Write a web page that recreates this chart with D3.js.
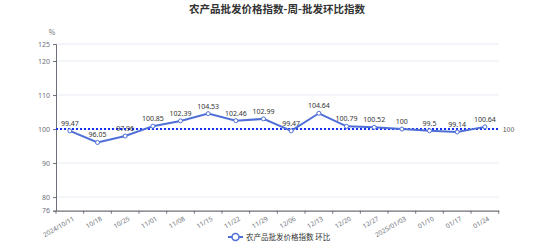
<!DOCTYPE html>
<html><head><meta charset="utf-8">
<script src="https://cdn.jsdelivr.net/npm/d3@7"></script>
<style>body{margin:0;background:#fff}svg{display:block;font-family:"Noto Sans CJK SC","Noto Sans",sans-serif}</style>
</head><body><svg id="c" width="554" height="250"></svg>
<script>
const categories = ["2024/10/11","10/18","10/25","11/01","11/08","11/15","11/22","11/29","12/06","12/13","12/20","12/27","2025/01/03","01/10","01/17","01/24"];
const values = [99.47,96.05,97.96,100.85,102.39,104.53,102.46,102.99,99.47,104.64,100.79,100.52,100,99.5,99.14,100.64];
const yTicks = [76,80,90,100,110,120,125];
const refValue = 100;
const titleText = "农产品批发价格指数-周-批发环比指数";
const legendText = "农产品批发价格指数 环比";
const unitText = "%";

const svg = d3.select("#c");
const L = 56, R = 498.7, T = 44, B = 210.7;
const x = d3.scaleBand().domain(categories).range([L, R]);
const y = d3.scaleLinear().domain([76,125]).range([B, T]);
const lineColor = "#4f6fd6";

svg.append("text").attr("x",277).attr("y",13).attr("text-anchor","middle")
  .attr("font-size",10.5).attr("font-weight","bold").attr("fill","#333").text(titleText);
svg.append("text").attr("x",52).attr("y",35).attr("text-anchor","middle")
  .attr("font-size",7).attr("fill","#6e7079").text(unitText);

// grid
svg.append("g").selectAll("line").data(yTicks.filter(d=>d!==76)).join("line")
  .attr("x1",L).attr("x2",R).attr("y1",d=>y(d)).attr("y2",d=>y(d))
  .attr("stroke","#e6ebf5").attr("stroke-width",1);

// y axis
const ya = svg.append("g").attr("transform",`translate(${L},0)`)
  .call(d3.axisLeft(y).tickValues(yTicks).tickSize(3).tickPadding(3));
ya.select(".domain").attr("stroke","#6e7079");
ya.selectAll(".tick line").attr("stroke","#6e7079");
ya.selectAll("text").attr("font-size",7).attr("fill","#6e7079").attr("font-family","Noto Sans, sans-serif");

// x axis
const xa = svg.append("g").attr("transform",`translate(0,${B})`)
  .call(d3.axisBottom(x).tickSize(0).tickPadding(0));
xa.select(".domain").attr("stroke","#6e7079").attr("stroke-width",1.2);
xa.selectAll(".tick text").remove();
const bounds = categories.map(c=>x(c)).concat([R]);
xa.append("g").selectAll("line").data(bounds).join("line")
  .attr("x1",d=>d).attr("x2",d=>d).attr("y1",0).attr("y2",3).attr("stroke","#6e7079");
xa.append("g").selectAll("text").data(categories).join("text")
  .attr("transform",d=>`translate(${x(d)+x.bandwidth()/2+3},6) rotate(-30)`)
  .attr("text-anchor","end").attr("dy","0.6em")
  .attr("font-size",6.5).attr("fill","#6e7079").attr("font-family","Noto Sans, sans-serif").text(d=>d);

// reference line
svg.append("line").attr("x1",L).attr("x2",R).attr("y1",y(refValue)).attr("y2",y(refValue))
  .attr("stroke","#1530f0").attr("stroke-width",2).attr("stroke-dasharray","2,2");
svg.append("text").attr("x",R+4).attr("y",y(refValue)+2.5).attr("font-size",7)
  .attr("fill","#555").text(refValue);

// line
const cx = d=>x(d)+x.bandwidth()/2;
const pts = categories.map((c,i)=>[cx(c), y(values[i])]);
svg.append("path").attr("d",d3.line()(pts)).attr("fill","none")
  .attr("stroke",lineColor).attr("stroke-width",2);
svg.append("g").selectAll("circle").data(pts).join("circle")
  .attr("cx",d=>d[0]).attr("cy",d=>d[1]).attr("r",2)
  .attr("fill","#fff").attr("stroke",lineColor).attr("stroke-width",1);
svg.append("g").selectAll("text").data(values).join("text")
  .attr("x",(d,i)=>pts[i][0]).attr("y",(d,i)=>pts[i][1]-5)
  .attr("text-anchor","middle").attr("font-size",7).attr("fill","#333")
  .attr("font-family","Noto Sans, sans-serif").text(d=>d);

// legend
const lg = svg.append("g").attr("transform","translate(228,237)");
lg.append("line").attr("x1",0).attr("x2",15).attr("stroke",lineColor).attr("stroke-width",2);
lg.append("circle").attr("cx",7.5).attr("r",3.5).attr("fill","#fff").attr("stroke",lineColor).attr("stroke-width",1.5);
lg.append("text").attr("x",18).attr("y",3).attr("font-size",7.5).attr("fill","#333").text(legendText);
</script></body></html>
